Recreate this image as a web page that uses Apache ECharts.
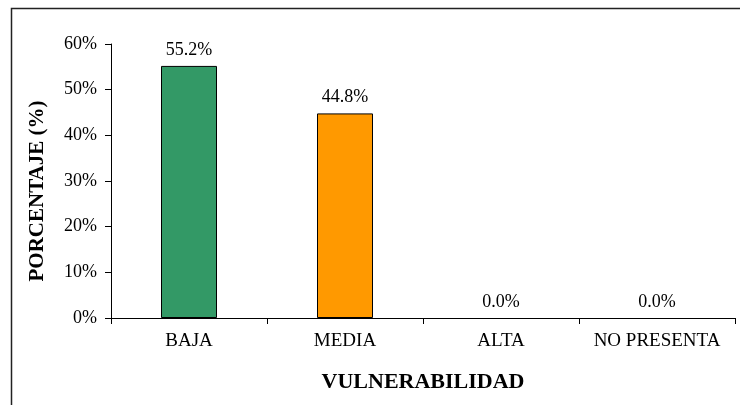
<!DOCTYPE html>
<html>
<head>
<meta charset="utf-8">
<script src="https://cdn.jsdelivr.net/npm/echarts@6/dist/echarts.min.js"></script>
<style>
  html, body { margin: 0; padding: 0; background: #fff; }
  #chart { width: 740px; height: 405px; }
</style>
</head>
<body>
<div id="chart"></div>
<script>
const categories = ['BAJA', 'MEDIA', 'ALTA', 'NO PRESENTA']
const values = [55.2, 44.8, 0.0, 0.0]
const barColors = ['#339966', '#FF9900', '#999999', '#999999']

const serif = '"Liberation Serif", "Times New Roman", serif'

const chart = echarts.init(document.getElementById('chart'))
chart.setOption({
  animation: false,
  graphic: [
    {
      // outer frame of the chart area (right/bottom edges run off the picture)
      type: 'rect',
      shape: { x: 11.5, y: 8.5, width: 740, height: 410 },
      style: { fill: 'none', stroke: '#222', lineWidth: 1.5 },
      silent: true
    }
  ],
  grid: { left: 111, right: 5, top: 44, bottom: 87 },
  xAxis: {
    type: 'category',
    data: categories,
    axisLine: { lineStyle: { color: '#000', width: 1 } },
    axisTick: { show: true, interval: 0, length: 6, lineStyle: { color: '#000' } },
    axisLabel: { interval: 0, color: '#000', fontFamily: serif, fontSize: 19, margin: 14 },
    name: 'VULNERABILIDAD',
    nameLocation: 'middle',
    nameGap: 53,
    nameTextStyle: { color: '#000', fontFamily: serif, fontSize: 22, fontWeight: 'bold' }
  },
  yAxis: {
    type: 'value',
    min: 0,
    max: 60,
    interval: 10,
    splitLine: { show: false },
    axisLine: { show: true, lineStyle: { color: '#000', width: 1 } },
    axisTick: { show: true, length: 6, lineStyle: { color: '#000' } },
    axisLabel: { color: '#000', fontFamily: serif, fontSize: 18, margin: 14, formatter: '{value}%' },
    name: 'PORCENTAJE (%)',
    nameLocation: 'middle',
    nameGap: 63,
    nameTextStyle: { color: '#000', fontFamily: serif, fontSize: 21, fontWeight: 'bold', padding: [0, 20, 0, 0] }
  },
  series: [
    {
      type: 'bar',
      barWidth: 56,
      data: values.map((v, i) => ({
        value: v,
        itemStyle: {
          color: v > 0 ? barColors[i] : 'rgba(0,0,0,0)',
          borderColor: '#000',
          borderWidth: v > 0 ? 1 : 0
        }
      })),
      label: {
        show: true,
        position: 'top',
        distance: 7,
        color: '#000',
        fontFamily: serif,
        fontSize: 18,
        formatter: p => p.value.toFixed(1) + '%'
      }
    }
  ]
})
</script>
</body>
</html>
